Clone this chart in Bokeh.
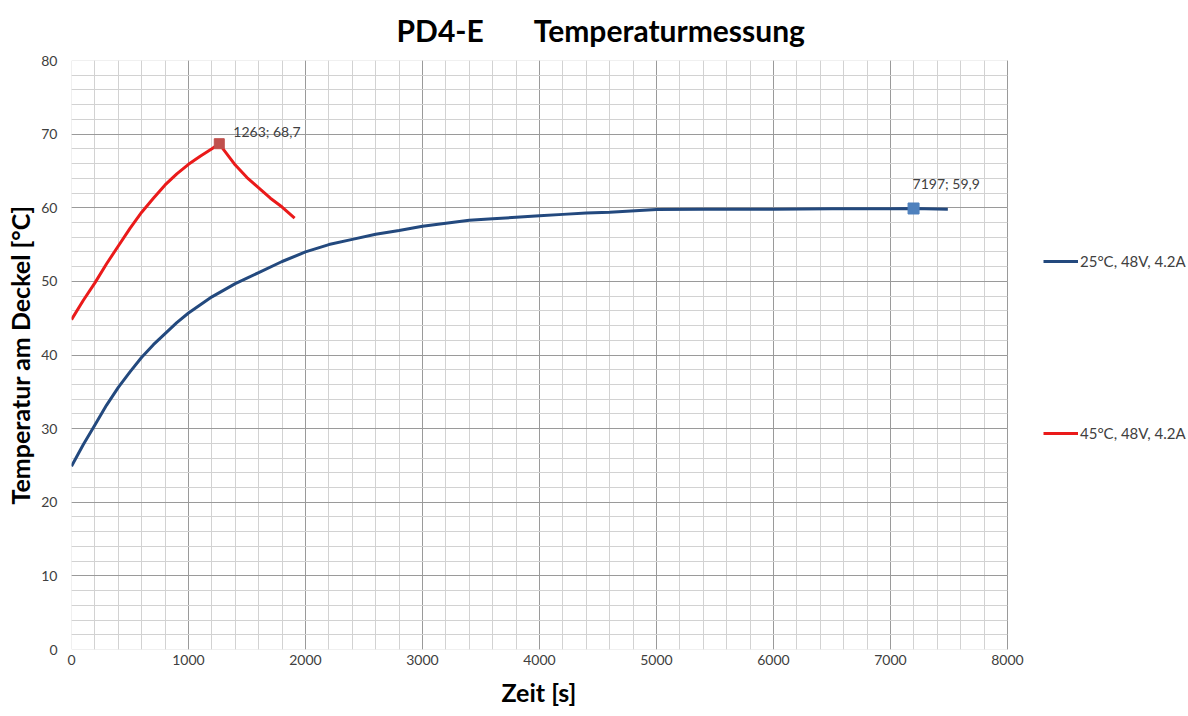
from bokeh.plotting import figure
from bokeh.models import (Range1d, SingleIntervalTicker, Legend, LegendItem, Title,
                          BoxAnnotation, Grid)
from bokeh.core.properties import value
from bokeh.embed import file_html
from bokeh.resources import INLINE

# ---- data ----
blue_t = [0, 100, 200, 300, 400, 500, 600, 700, 800, 900, 1000, 1200, 1400, 1600, 1800,
          2000, 2200, 2400, 2600, 2800, 3000, 3200, 3400, 3600, 3800, 4000, 4200, 4400,
          4600, 5000, 5400, 6000, 6500, 7000, 7197, 7490]
blue_v = [24.9, 27.8, 30.5, 33.2, 35.6, 37.7, 39.7, 41.4, 42.9, 44.4, 45.7, 47.9, 49.7,
          51.2, 52.7, 54.0, 55.0, 55.7, 56.4, 56.9, 57.5, 57.9, 58.3, 58.5, 58.7, 58.9,
          59.1, 59.3, 59.4, 59.75, 59.8, 59.8, 59.85, 59.85, 59.9, 59.8]

red_t = [0, 100, 200, 300, 400, 500, 600, 700, 800, 900, 1000, 1100, 1200, 1263,
         1300, 1400, 1500, 1600, 1700, 1800, 1907]
red_v = [44.8, 47.4, 49.8, 52.4, 54.8, 57.2, 59.4, 61.3, 63.1, 64.6, 65.9, 67.0, 68.0, 68.7,
         67.9, 65.8, 64.1, 62.7, 61.3, 60.1, 58.6]

series_names = ["25°C, 48V, 4.2A", "45°C, 48V, 4.2A"]

red_peak_t = [1263]
red_peak_v = [68.7]
blue_mark_t = [7197]
blue_mark_v = [59.9]

x_min, x_max = 0, 8000
y_min, y_max = 0, 80

title_parts = ["PD4-E", "Temperaturmessung"]
x_label = "Zeit [s]"
y_label = "Temperatur am Deckel [°C]"


def fmt(t, v):
    return f"{t}; " + f"{v}".replace(".", ",")


FONT = "Lato"
BLUE = "#23497e"
RED = "#ea1a1a"
TXT = "#404040"

# ---- layout constants ----
W, H = 1188, 716
B_LEFT, B_RIGHT, B_TOP, B_BOTTOM = 71, 2, 59, 67
AXIS_PX = 936                      # pixels covered by 0..8000
frame_w = W - B_LEFT - B_RIGHT
x_view_end = x_max * frame_w / AXIS_PX   # extra room on the right for the legend

p = figure(width=W, height=H, output_backend="svg", toolbar_location=None,
           x_range=Range1d(x_min, x_view_end), y_range=Range1d(y_min, y_max),
           min_border_left=B_LEFT, min_border_right=B_RIGHT,
           min_border_top=B_TOP, min_border_bottom=B_BOTTOM)
p.background_fill_color = "white"
p.border_fill_color = "white"
p.outline_line_color = None

xt = SingleIntervalTicker(interval=1000, num_minor_ticks=5)
yt = SingleIntervalTicker(interval=10, num_minor_ticks=5)
p.xaxis.ticker = xt
p.yaxis.ticker = yt
p.xaxis.bounds = (x_min, x_max)
p.xgrid.ticker = xt
p.ygrid.ticker = yt
p.xgrid.bounds = (x_min, x_max)
has_cross = "cross_bounds" in Grid.properties()
if has_cross:
    p.ygrid.cross_bounds = (x_min, x_max)
for g in (p.xgrid, p.ygrid):
    g.grid_line_color = "#9a9a9a"
    g.grid_line_width = 1
    g.minor_grid_line_color = "#d2d2d2"
    g.minor_grid_line_width = 1
if not has_cross:
    p.add_layout(BoxAnnotation(left=x_max, fill_color="white", fill_alpha=1,
                               line_color=None, level="underlay"))

p.add_layout(BoxAnnotation(left=x_min, right=x_max, bottom=y_min, top=y_max,
                           fill_alpha=0, line_color="#9a9a9a", line_width=1))

for ax in (p.xaxis, p.yaxis):
    ax.axis_line_color = None
    ax.major_tick_line_color = None
    ax.minor_tick_line_color = None
    ax.major_tick_out = 0
    ax.major_tick_in = 0
    ax.minor_tick_out = 0
    ax.minor_tick_in = 0
    ax.major_label_text_font = FONT
    ax.major_label_text_font_size = "14px"
    ax.major_label_text_color = TXT
    ax.axis_label_text_font = FONT
    ax.axis_label_text_font_style = "bold"
    ax.axis_label_text_color = "black"
    ax.axis_label_text_font_size = "25px"

p.yaxis.axis_label = y_label
p.xaxis.major_label_standoff = 5
p.yaxis.major_label_standoff = 14
p.yaxis.axis_label_standoff = 3

# x-axis label, centred under the 0..8000 span (the frame is wider because of the legend)
p.add_layout(Title(text=x_label, align="left", offset=430, vertical_align="bottom",
                   standoff=14, text_font=FONT, text_font_size="25px",
                   text_font_style="bold", text_color="black"), "below")

# ---- series ----
r_blue = p.line(blue_t, blue_v, line_color=BLUE, line_width=3)
r_red = p.line(red_t, red_v, line_color=RED, line_width=3)

p.scatter(red_peak_t, red_peak_v, marker="square", size=10, fill_color="#c0504d",
          line_color="#c0504d")
p.scatter(blue_mark_t, blue_mark_v, marker="square", size=11, fill_color="#4f81bd",
          line_color="#4f81bd")

p.text(red_peak_t, red_peak_v, text=[fmt(t, v) for t, v in zip(red_peak_t, red_peak_v)],
       x_offset=14, y_offset=-12, text_font=value(FONT), text_font_size="14px",
       text_color=TXT, text_baseline="middle", text_align="left")
p.text(blue_mark_t, blue_mark_v, text=[fmt(t, v) for t, v in zip(blue_mark_t, blue_mark_v)],
       x_offset=-1, y_offset=-25, text_font=value(FONT), text_font_size="14px",
       text_color=TXT, text_baseline="middle", text_align="left")

# ---- legend (to the right of the 0..8000 area) ----
legend = Legend(items=[LegendItem(label=series_names[0], renderers=[r_blue]),
                       LegendItem(label=series_names[1], renderers=[r_red])],
                location=(972, 206), orientation="vertical",
                padding=0, margin=0, spacing=152, label_standoff=2,
                glyph_width=35, glyph_height=20, label_height=20,
                label_text_font=FONT, label_text_font_size="15px",
                label_text_color=TXT, border_line_color=None,
                background_fill_alpha=0)
p.add_layout(legend)

# ---- title ----
title_text = title_parts[0] + "\u00a0" * 7 + title_parts[1]
p.title = Title(text=title_text, align="left", offset=325, vertical_align="top",
                standoff=22, text_font=FONT, text_font_size="30px",
                text_font_style="bold", text_color="black")

open("out.html", "w").write(file_html(p, INLINE))
